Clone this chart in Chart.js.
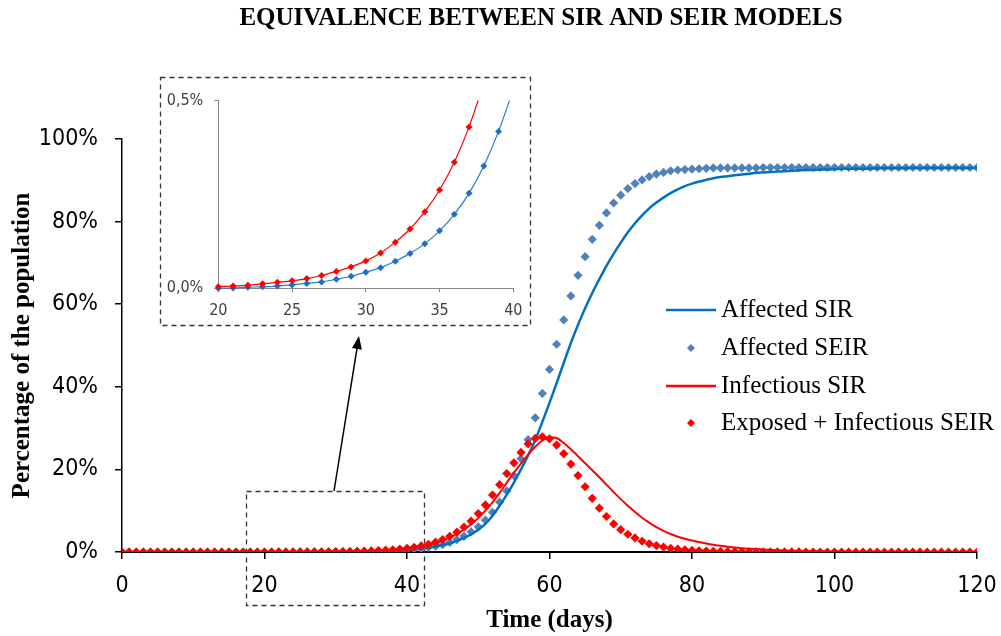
<!DOCTYPE html>
<html>
<head>
<meta charset="utf-8">
<title>Equivalence between SIR and SEIR models</title>
<script src="https://cdn.jsdelivr.net/npm/chart.js@4.4.1/dist/chart.umd.min.js"></script>
<style>
  body { margin: 0; background: #fff; }
  #wrap { position: relative; width: 1001px; height: 636px; }
  #mainCanvas { position: absolute; left: 0; top: 0; }
  #insetCanvas { position: absolute; left: 162px; top: 80px; }
</style>
</head>
<body>
<div id="wrap">
  <canvas id="mainCanvas" width="1001" height="636"></canvas>
  <canvas id="insetCanvas" width="364" height="240"></canvas>
</div>
<script>
////////////data (percent of the population, one value per day)////////////
var chartTitle = 'EQUIVALENCE BETWEEN SIR AND SEIR MODELS';
var xTitle = 'Time (days)';
var yTitle = 'Percentage of the population';
var seriesNames = ['Affected SIR', 'Affected SEIR', 'Infectious SIR', 'Exposed + Infectious SEIR'];

// days 0..120
var days = [];
for (var d = 0; d <= 120; d++) days.push(d);

var affectedSIR = [
  0, 0, 0, 0, 0, 0, 0, 0, 0, 0,
  0, 0, 0, 0, 0, 0, 0, 0, 0, 0,
  0.000, 0.001, 0.003, 0.004, 0.006, 0.009, 0.013, 0.017, 0.024, 0.032,
  0.043, 0.055, 0.072, 0.093, 0.119, 0.153, 0.197, 0.253, 0.326, 0.418,
  0.53, 0.66, 0.84, 1.06, 1.33, 1.68, 2.12, 2.68, 3.4, 4.3,
  5.4, 6.8, 8.8, 11.2, 13.9, 16.8, 20.0, 23.4, 27.1, 31.5,
  36.1, 40.9, 45.8, 50.6, 55.0, 59.0, 62.7, 66.1, 69.3, 72.2,
  74.9, 77.4, 79.6, 81.5, 83.2, 84.6, 85.8, 86.9, 87.8, 88.6,
  89.2, 89.7, 90.1, 90.5, 90.8, 91.0, 91.2, 91.4, 91.6, 91.8,
  91.9, 92.0, 92.1, 92.2, 92.3, 92.4, 92.5, 92.5, 92.6, 92.6,
  92.7, 92.8, 92.8, 92.8, 92.8, 92.8, 92.9, 92.9, 92.9, 92.9,
  92.9, 93.0, 93.0, 93.0, 93.0, 93.0, 93.0, 93.0, 93.0, 93.0, 93.0
];

var affectedSEIR = [
  0, 0, 0, 0, 0, 0, 0, 0, 0, 0,
  0, 0, 0, 0, 0, 0, 0, 0, 0, 0,
  0.000, 0.001, 0.003, 0.004, 0.006, 0.009, 0.013, 0.017, 0.024, 0.032,
  0.043, 0.055, 0.072, 0.093, 0.119, 0.153, 0.197, 0.253, 0.326, 0.418,
  0.53, 0.68, 0.87, 1.1, 1.4, 1.8, 2.3, 3.0, 3.8, 4.85,
  6.1, 7.7, 9.6, 12.1, 14.8, 18.5, 22.6, 27.2, 32.5, 38.4,
  44.2, 50.3, 56.2, 62.0, 67.0, 71.5, 75.7, 79.1, 82.1, 84.5,
  86.4, 88.0, 89.2, 90.1, 90.9, 91.5, 91.9, 92.3, 92.5, 92.6,
  92.7, 92.8, 92.9, 93.0, 93.0, 93.0, 93.0, 93.0, 93.0, 93.0,
  93.1, 93.1, 93.1, 93.1, 93.1, 93.1, 93.1, 93.1, 93.1, 93.1,
  93.1, 93.1, 93.1, 93.1, 93.1, 93.1, 93.1, 93.1, 93.1, 93.1,
  93.1, 93.1, 93.1, 93.1, 93.1, 93.1, 93.1, 93.1, 93.1, 93.1, 93.1
];

var infectiousSIR = [
  0.0008, 0.0009, 0.0010, 0.0011, 0.0012, 0.0013, 0.0014, 0.0015, 0.0016, 0.0017,
  0.0018, 0.0019, 0.0021, 0.0023, 0.0025, 0.0027, 0.0030, 0.0033, 0.0036, 0.0040,
  0.0044, 0.006, 0.008, 0.012, 0.016, 0.020, 0.026, 0.034, 0.045, 0.057,
  0.073, 0.094, 0.123, 0.158, 0.204, 0.262, 0.336, 0.430, 0.55, 0.70,
  0.89, 1.13, 1.45, 1.83, 2.3, 2.85, 3.55, 4.4, 5.45, 6.7,
  8.2, 10.0, 12.0, 14.3, 16.8, 19.2, 21.4, 23.6, 25.5, 27.0,
  27.8, 27.6, 26.4, 24.9, 23.2, 21.5, 19.8, 18.1, 16.3, 14.5,
  12.8, 11.2, 9.7, 8.3, 7.1, 6.0, 5.1, 4.35, 3.7, 3.2,
  2.8, 2.4, 2.05, 1.75, 1.5, 1.27, 1.08, 0.93, 0.8, 0.7,
  0.62, 0.53, 0.45, 0.38, 0.32, 0.27, 0.23, 0.2, 0.17, 0.14,
  0.12, 0.1, 0.09, 0.08, 0.07, 0.06, 0.05, 0.05, 0.04, 0.04,
  0.03, 0.03, 0.03, 0.02, 0.02, 0.02, 0.02, 0.01, 0.01, 0.01, 0.01
];

var exposedInfSEIR = [
  0.0008, 0.0009, 0.0010, 0.0011, 0.0012, 0.0013, 0.0014, 0.0015, 0.0016, 0.0017,
  0.0018, 0.0019, 0.0021, 0.0023, 0.0025, 0.0027, 0.0030, 0.0033, 0.0036, 0.0040,
  0.0044, 0.006, 0.008, 0.012, 0.016, 0.020, 0.026, 0.034, 0.045, 0.057,
  0.073, 0.094, 0.123, 0.158, 0.204, 0.262, 0.336, 0.430, 0.55, 0.70,
  0.9, 1.15, 1.47, 1.87, 2.38, 3.0, 3.8, 4.8, 6.0, 7.5,
  9.3, 11.4, 13.8, 16.3, 19.0, 21.6, 24.1, 26.2, 27.5, 27.9,
  27.4, 25.9, 23.8, 21.3, 18.5, 15.8, 13.0, 10.6, 8.6, 6.8,
  5.4, 4.3, 3.4, 2.6, 2.0, 1.55, 1.2, 0.9, 0.7, 0.53,
  0.4, 0.3, 0.23, 0.17, 0.13, 0.1, 0.07, 0.05, 0.04, 0.03,
  0.02, 0.02, 0.01, 0.01, 0.01, 0.01, 0, 0, 0, 0,
  0, 0, 0, 0, 0, 0, 0, 0, 0, 0,
  0, 0, 0, 0, 0, 0, 0, 0, 0, 0, 0
];

// zoomed window shown in the inset
var insetFrom = 20, insetTo = 40;

////////////styles////////////
var blueLine = '#0070c0', blueMark = '#4f81bd', red = '#ff0000';
var serif = '"Liberation Serif", "Times New Roman", serif';
var narrow = '"Liberation Sans Narrow", "Arial Narrow", "DejaVu Sans Condensed", "Liberation Sans", sans-serif';

////////////decorations: title, boxes, arrow, legend////////////
function diamond(ctx, x, y, r) {
  ctx.beginPath();
  ctx.moveTo(x, y - r);
  ctx.lineTo(x + r, y);
  ctx.lineTo(x, y + r);
  ctx.lineTo(x - r, y);
  ctx.closePath();
  ctx.fill();
}

var decorPlugin = {
  id: 'decor',
  beforeDatasetsDraw: function(chart) {
    var ctx = chart.ctx, xs = chart.scales.x;
    ctx.save();
    ctx.setLineDash([5, 4]);
    ctx.strokeStyle = '#333';
    ctx.lineWidth = 1.3;
    // box round the zoomed window on the main chart
    var bx1 = Math.round(xs.getPixelForValue(17.4)) + 0.5;
    var bx2 = Math.round(xs.getPixelForValue(42.4)) + 0.5;
    ctx.strokeRect(bx1, 491.5, bx2 - bx1, 114);
    ctx.restore();
  },
  afterDraw: function(chart) {
    var ctx = chart.ctx;
    ctx.save();
    // title
    ctx.fillStyle = '#000';
    ctx.font = 'bold 25px ' + serif;
    ctx.textAlign = 'center';
    ctx.textBaseline = 'middle';
    ctx.fillText(chartTitle, 541, 19);

    // inset frame
    ctx.setLineDash([5, 4]);
    ctx.strokeStyle = '#333';
    ctx.lineWidth = 1.3;
    ctx.strokeRect(160.5, 77.5, 370, 248);
    ctx.setLineDash([]);

    // arrow from small box up to inset
    var ax1 = 334, ay1 = 491, ax2 = 359, ay2 = 336;
    var ang = Math.atan2(ay2 - ay1, ax2 - ax1);
    ctx.strokeStyle = '#000';
    ctx.fillStyle = '#000';
    ctx.lineWidth = 1.5;
    ctx.beginPath();
    ctx.moveTo(ax1, ay1);
    ctx.lineTo(ax2 - 10 * Math.cos(ang), ay2 - 10 * Math.sin(ang));
    ctx.stroke();
    ctx.beginPath();
    ctx.moveTo(ax2, ay2);
    ctx.lineTo(ax2 - 13 * Math.cos(ang) + 5 * Math.sin(ang), ay2 - 13 * Math.sin(ang) - 5 * Math.cos(ang));
    ctx.lineTo(ax2 - 13 * Math.cos(ang) - 5 * Math.sin(ang), ay2 - 13 * Math.sin(ang) + 5 * Math.cos(ang));
    ctx.closePath();
    ctx.fill();

    // legend
    var rows = [310, 348, 386, 423];
    var kinds = ['line', 'mark', 'line', 'mark'];
    var cols = [blueLine, blueMark, red, red];
    ctx.font = '25px ' + serif;
    ctx.textAlign = 'left';
    ctx.textBaseline = 'middle';
    for (var i = 0; i < seriesNames.length; i++) {
      if (kinds[i] === 'line') {
        ctx.strokeStyle = cols[i];
        ctx.lineWidth = 2.5;
        ctx.beginPath();
        ctx.moveTo(666, rows[i]);
        ctx.lineTo(716, rows[i]);
        ctx.stroke();
      } else {
        ctx.fillStyle = cols[i];
        diamond(ctx, 691, rows[i], 4);
      }
      ctx.fillStyle = '#000';
      ctx.fillText(seriesNames[i], 721, rows[i]);
    }
    ctx.restore();
  }
};

////////////main chart////////////
var mainChart = new Chart(document.getElementById('mainCanvas'), {
  type: 'line',
  data: {
    labels: days,
    datasets: [
      { label: seriesNames[3], data: exposedInfSEIR, showLine: false, pointStyle: 'rectRot',
        pointRadius: 4.6, pointBorderWidth: 0, backgroundColor: red, borderColor: red },
      { label: seriesNames[2], data: infectiousSIR, borderColor: red, borderWidth: 2,
        pointRadius: 0, cubicInterpolationMode: 'monotone' },
      { label: seriesNames[0], data: affectedSIR, borderColor: blueLine, borderWidth: 2.5,
        pointRadius: 0, cubicInterpolationMode: 'monotone' },
      { label: seriesNames[1], data: affectedSEIR, showLine: false, pointStyle: 'rectRot',
        pointRadius: 4.6, pointBorderWidth: 0, backgroundColor: blueMark, borderColor: blueMark }
    ]
  },
  options: {
    responsive: false,
    animation: false,
    events: [],
    layout: { padding: { top: 139, right: 24, bottom: 0, left: 0 } },
    plugins: { legend: { display: false }, tooltip: { enabled: false } },
    scales: {
      x: {
        type: 'linear', min: 0, max: 120,
        ticks: { stepSize: 20, maxRotation: 0, padding: 13, color: '#000',
                 font: { family: narrow, size: 23 } },
        grid: { display: true, drawOnChartArea: false, drawTicks: true, tickLength: 7,
                color: '#000', lineWidth: 1.5 },
        border: { display: true, color: '#000', width: 2 },
        title: { display: true, text: xTitle, color: '#000',
                 font: { family: serif, size: 25, weight: 'bold' }, padding: { top: 0, bottom: 0 } },
        afterFit: function(s) { s.height = 84; s.paddingLeft = 0; s.paddingRight = 0; }
      },
      y: {
        min: 0, max: 100,
        ticks: { stepSize: 20, padding: 17, color: '#000',
                 font: { family: narrow, size: 23 },
                 callback: function(v) { return v + '%'; } },
        grid: { display: true, drawOnChartArea: false, drawTicks: true, tickLength: 7,
                color: '#000', lineWidth: 1.5 },
        border: { display: true, color: '#000', width: 1.5 },
        title: { display: true, text: yTitle, color: '#000',
                 font: { family: serif, size: 25, weight: 'bold' }, padding: { top: 8, bottom: 0 } },
        afterFit: function(s) { s.width = 122; }
      }
    }
  },
  plugins: [decorPlugin]
});

////////////inset chart////////////
var insetClip = { left: 6, top: 0, right: 6, bottom: 6 };
var insetChart = new Chart(document.getElementById('insetCanvas'), {
  type: 'line',
  data: {
    labels: days.slice(insetFrom, insetTo + 1),
    datasets: [
      { data: exposedInfSEIR.slice(insetFrom, insetTo + 1), showLine: false, pointStyle: 'rectRot',
        pointRadius: 3.5, pointBorderWidth: 0, backgroundColor: red, clip: insetClip },
      { data: infectiousSIR.slice(insetFrom, insetTo + 1), borderColor: red, borderWidth: 1.2,
        pointRadius: 0, cubicInterpolationMode: 'monotone', clip: insetClip },
      { data: affectedSEIR.slice(insetFrom, insetTo + 1), showLine: false, pointStyle: 'rectRot',
        pointRadius: 3.5, pointBorderWidth: 0, backgroundColor: '#1f6fc5', clip: insetClip },
      { data: affectedSIR.slice(insetFrom, insetTo + 1), borderColor: '#2b7bd0', borderWidth: 1.2,
        pointRadius: 0, cubicInterpolationMode: 'monotone', clip: insetClip }
    ]
  },
  options: {
    responsive: false,
    animation: false,
    events: [],
    layout: { padding: { top: 17.7, right: 12.7, bottom: 0, left: 0 } },
    plugins: { legend: { display: false }, tooltip: { enabled: false } },
    scales: {
      x: {
        type: 'linear', min: insetFrom, max: insetTo,
        ticks: { stepSize: 5, maxRotation: 0, padding: 9, color: '#404040',
                 font: { family: narrow, size: 16 } },
        grid: { display: true, drawOnChartArea: false, tickLength: 4, color: '#868686', lineWidth: 1 },
        border: { display: true, color: '#868686', width: 1 },
        afterFit: function(s) { s.height = 31.7; s.paddingLeft = 0; s.paddingRight = 0; }
      },
      y: {
        min: 0, max: 0.5,
        ticks: { stepSize: 0.5, padding: 11, color: '#404040',
                 font: { family: narrow, size: 16 },
                 callback: function(v) { return v.toFixed(1).replace('.', ',') + '%'; } },
        grid: { display: true, drawOnChartArea: false, tickLength: 4, color: '#868686', lineWidth: 1 },
        border: { display: true, color: '#868686', width: 1 },
        afterFit: function(s) { s.width = 56.3; }
      }
    }
  }
});
</script>
</body>
</html>
